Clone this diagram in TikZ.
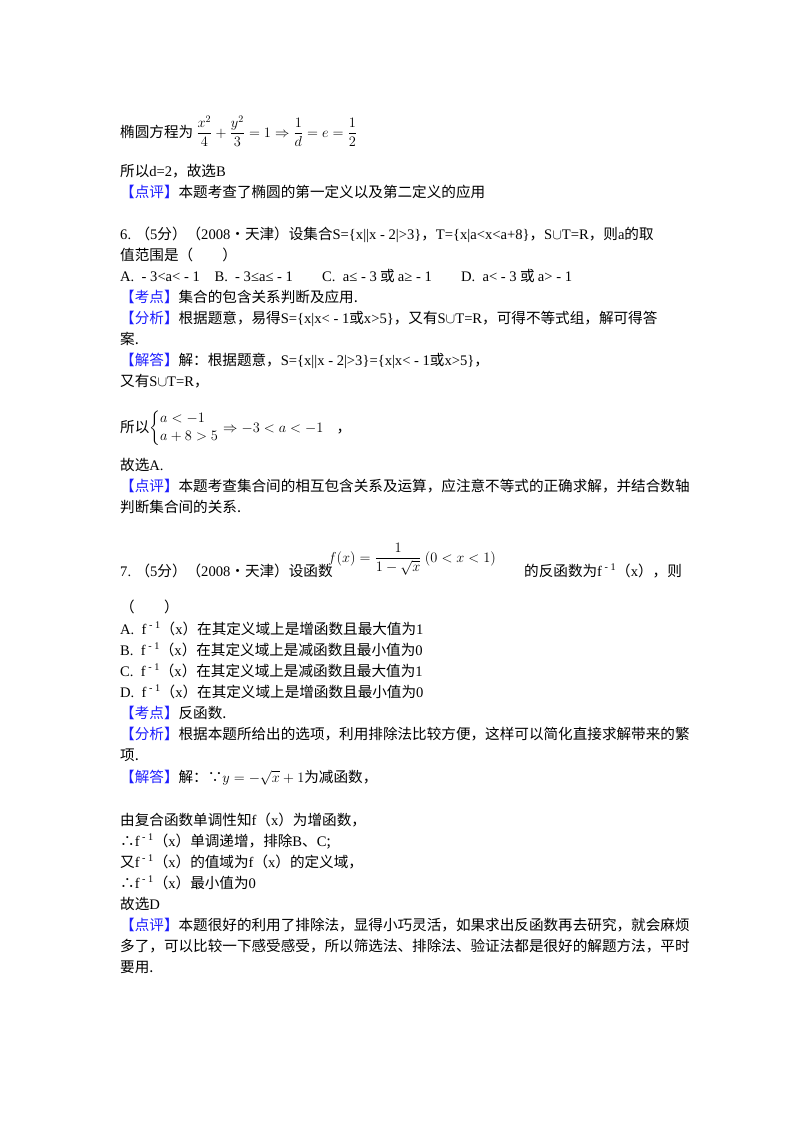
\documentclass[tikz,border=0pt]{standalone}
\usepackage{fontspec}
\usepackage{amsmath}
\setmainfont{Noto Sans CJK SC}
\newfontfamily\lat{Liberation Serif}
\definecolor{kw}{RGB}{30,30,255}
\tikzset{ln/.style={anchor=base west,inner sep=0pt,font=\fontsize{14.6}{15}\selectfont}}
\newcommand{\kk}[1]{\textcolor{kw}{【#1】}}
\newcommand{\un}{$\cup$}
\begin{document}
\begin{tikzpicture}[x=1pt,y=-1pt]
\useasboundingbox (0,0) rectangle (800,1132);
\fill[white] (0,0) rectangle (800,1132);
\node[ln] (l1) at (120,137) {椭圆方程为 $\dfrac{x^2}{4}+\dfrac{y^2}{3}=1\Rightarrow\dfrac{1}{d}=e=\dfrac{1}{2}$};
\node[ln] (l2) at (120,176) {所以{\lat d=2}，故选{\lat B}};
\node[ln] (l3) at (120,197) {\kk{点评}本题考查了椭圆的第一定义以及第二定义的应用};
\node[ln] (l4) at (120,239) {{\lat 6.} （{\lat 5}分）（{\lat 2008}•天津）设集合{\lat S=\{x||x - 2|>3\}}，{\lat T=\{x|a<x<a+8\}}，{\lat S\un T=R}，则{\lat a}的取};
\node[ln] (l5) at (120,260) {值范围是（\quad\quad）};
\node[ln] (l6) at (120,281) {{\lat A.\ \ - 3<a< - 1\quad B.\ \ - 3≤a≤ - 1\qquad C.\ \ a≤ - 3} 或 {\lat a≥ - 1\qquad D.\ \ a< - 3} 或 {\lat a> - 1}};
\node[ln] (l7) at (120,302) {\kk{考点}集合的包含关系判断及应用.};
\node[ln] (l8) at (120,323) {\kk{分析}根据题意，易得{\lat S=\{x|x< - 1}或{\lat x>5\}}，又有{\lat S\un T=R}，可得不等式组，解可得答};
\node[ln] (l9) at (120,344) {案.};
\node[ln] (l10) at (120,365) {\kk{解答}解：根据题意，{\lat S=\{x||x - 2|>3\}=\{x|x< - 1}或{\lat x>5\}}，};
\node[ln] (l11) at (120,386) {又有{\lat S\un T=R}，};
\node[ln] (l12) at (120,432) {所以$\left\{\begin{aligned}&a<-1\\&a+8>5\end{aligned}\right.\Rightarrow -3<a<-1$\ \ \ \ ，};
\node[ln] (l13) at (120,470) {故选{\lat A.}};
\node[ln] (l14) at (120,491) {\kk{点评}本题考查集合间的相互包含关系及运算，应注意不等式的正确求解，并结合数轴};
\node[ln] (l15) at (120,512) {判断集合间的关系.};
\node[ln] (l16) at (120,576) {{\lat 7.} （{\lat 5}分）（{\lat 2008}•天津）设函数};
\node[ln] (f) at (328,562) {$f(x)=\dfrac{1}{1-\sqrt{x}}\ (0<x<1)$};
\node[ln] (l16b) at (524,576) {的反函数为{\lat f\textsuperscript{ - 1}}（{\lat x}），则};
\node[ln] (l17) at (120,612) {（\quad\quad）};
\node[ln] (a) at (120,634) {{\lat A.\ \ f\textsuperscript{ - 1}}（{\lat x}）在其定义域上是增函数且最大值为{\lat 1}};
\node[ln] (b) at (120,655) {{\lat B.\ \ f\textsuperscript{ - 1}}（{\lat x}）在其定义域上是减函数且最小值为{\lat 0}};
\node[ln] (c) at (120,676) {{\lat C.\ \ f\textsuperscript{ - 1}}（{\lat x}）在其定义域上是减函数且最大值为{\lat 1}};
\node[ln] (d) at (120,697) {{\lat D.\ \ f\textsuperscript{ - 1}}（{\lat x}）在其定义域上是增函数且最小值为{\lat 0}};
\node[ln] (l18) at (120,718) {\kk{考点}反函数.};
\node[ln] (l19) at (120,739) {\kk{分析}根据本题所给出的选项，利用排除法比较方便，这样可以简化直接求解带来的繁};
\node[ln] (l20) at (120,760) {项.};
\node[ln] (l21) at (120,782) {\kk{解答}解：∵$y=-\sqrt{x}+1$为减函数，};
\node[ln] (l22) at (120,825) {由复合函数单调性知{\lat f}（{\lat x}）为增函数，};
\node[ln] (l23) at (120,846) {∴{\lat f\textsuperscript{ - 1}}（{\lat x}）单调递增，排除{\lat B}、{\lat C};};
\node[ln] (l24) at (120,867) {又{\lat f\textsuperscript{ - 1}}（{\lat x}）的值域为{\lat f}（{\lat x}）的定义域，};
\node[ln] (l25) at (120,888) {∴{\lat f\textsuperscript{ - 1}}（{\lat x}）最小值为{\lat 0}};
\node[ln] (l26) at (120,909) {故选{\lat D}};
\node[ln] (l27) at (120,930) {\kk{点评}本题很好的利用了排除法，显得小巧灵活，如果求出反函数再去研究，就会麻烦};
\node[ln] (l28) at (120,951) {多了，可以比较一下感受感受，所以筛选法、排除法、验证法都是很好的解题方法，平时};
\node[ln] (l29) at (120,972) {要用.};
\end{tikzpicture}
\end{document}
